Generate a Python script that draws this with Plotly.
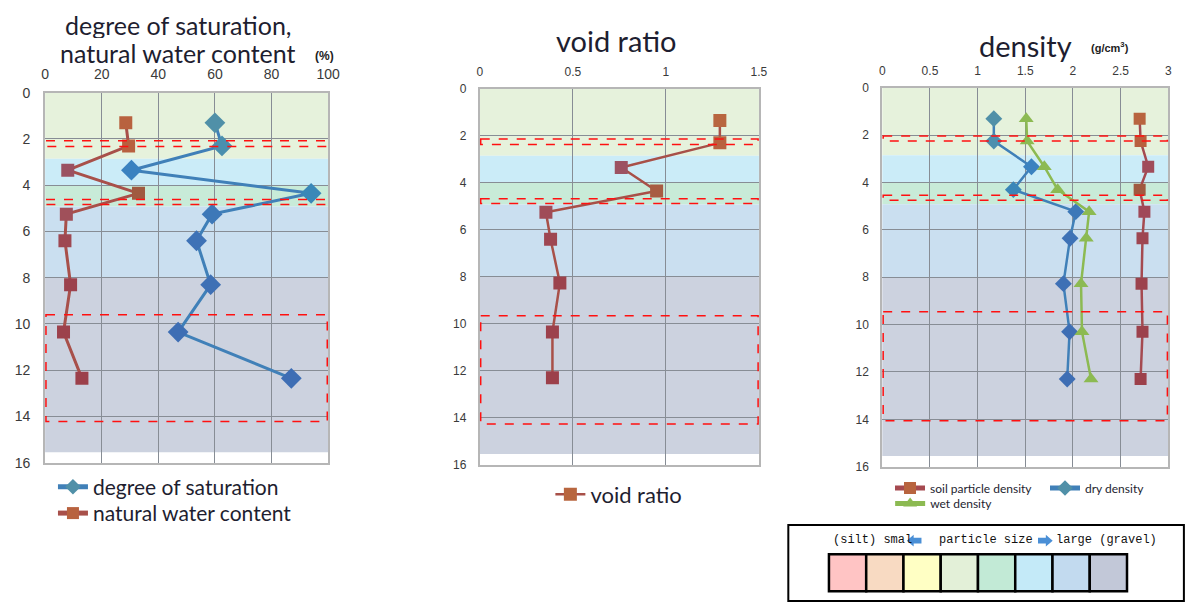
import plotly.graph_objects as go

W, H = 1200, 610

# ---------------- data ----------------
depth = [1.3, 2.3, 3.35, 4.35, 5.25, 6.4, 8.3, 10.35, 12.35]
saturation = [60, 62.5, 30.5, 94, 59, 53.5, 58.5, 47, 87]
water_content = [28.5, 29.5, 8, 33, 7.5, 7, 9, 6.5, 13]

depth_v = [1.35, 2.3, 3.35, 4.35, 5.25, 6.4, 8.27, 10.35, 12.3]
void_ratio = [1.29, 1.29, 0.76, 0.95, 0.355, 0.38, 0.43, 0.39, 0.39]

depth_d = [1.3, 2.25, 3.33, 4.3, 5.23, 6.35, 8.27, 10.3, 12.3]
soil_particle_density = [2.70, 2.71, 2.79, 2.70, 2.75, 2.73, 2.72, 2.73, 2.71]
dry_density = [1.17, 1.17, 1.565, 1.375, 2.03, 1.97, 1.90, 1.965, 1.94]
wet_density = [1.51, 1.52, 1.70, 1.84, 2.17, 2.14, 2.085, 2.095, 2.19]

# soil layer bands (depth top / bottom / colour)
band_top = [0, 2.85, 4.0, 4.92, 8.0]
band_bottom = [2.85, 4.0, 4.92, 8.0, 15.55]
band_color = ['#e6f2dc', '#cbecf8', '#c8ebd8', '#cadff0', '#ccd2df']

# red dashed sampling boxes per chart (top, bottom)
boxes_left = [(2.08, 2.33), (4.62, 4.83), (9.6, 14.22)]
boxes_mid = [(2.14, 2.37), (4.68, 4.88), (9.66, 14.27)]
boxes_right = [(2.03, 2.25), (4.54, 4.75), (9.46, 14.06)]

# particle-size legend swatches
swatch_colors = ['#ffc4c4', '#f8dac2', '#ffffc4', '#e3f0d8', '#c2ead6',
                 '#c4eaf8', '#c2daef', '#c2c8d8']

sat_colors = ['#5090a8', '#4a8fae', '#3a82c0', '#3a88b8', '#3d78b8',
              '#3e72b6', '#3e70b5', '#3e6eb4', '#3e6eb4']
wc_colors = ['#b8623f', '#b8603f', '#9a5262', '#a05a40', '#a0505a',
             '#9e4852', '#9c414c', '#9c414c', '#9c404a']
vr_colors = ['#b8663f', '#b8623f', '#9c5262', '#a85c42', '#a04c58',
             '#9e4652', '#9c424c', '#9c414c', '#9c404a']
spd_colors = ['#b8643f', '#b8603f', '#a04c5a', '#a05a40', '#a04858',
              '#9e4652', '#9c424c', '#9c414c', '#9c404a']
dry_colors = ['#5090a8', '#4c8fae', '#3a82c0', '#3a86b8', '#3d78b8',
              '#3e72b6', '#3e70b5', '#3e6eb4', '#3e6eb4']

FONT_T = 'Lato'
TXT = '#1e1e30'


def px(x):
    return x / W


def py(y):
    return 1 - y / H


fig = go.Figure()

# ---------------- traces ----------------
fig.add_trace(go.Scatter(
    x=saturation, y=depth, name='degree of saturation', mode='lines+markers',
    line=dict(color='#4080b8', width=3),
    marker=dict(symbol='diamond', size=16, color=sat_colors),
    xaxis='x', yaxis='y', legend='legend'))
fig.add_trace(go.Scatter(
    x=water_content, y=depth, name='natural water content', mode='lines+markers',
    line=dict(color='#a8504a', width=3),
    marker=dict(symbol='square', size=13, color=wc_colors),
    xaxis='x', yaxis='y', legend='legend5'))
fig.add_trace(go.Scatter(
    x=void_ratio, y=depth_v, name='void ratio', mode='lines+markers',
    line=dict(color='#a85048', width=2.5),
    marker=dict(symbol='square', size=13, color=vr_colors),
    xaxis='x2', yaxis='y2', legend='legend2'))
fig.add_trace(go.Scatter(
    x=soil_particle_density, y=depth_d, name='soil particle density',
    mode='lines+markers', line=dict(color='#a54a50', width=2.5),
    marker=dict(symbol='square', size=12, color=spd_colors),
    xaxis='x3', yaxis='y3', legend='legend3'))
fig.add_trace(go.Scatter(
    x=dry_density, y=depth_d, name='dry density', mode='lines+markers',
    line=dict(color='#4080b8', width=2.5),
    marker=dict(symbol='diamond', size=13, color=dry_colors),
    xaxis='x3', yaxis='y3', legend='legend3'))
fig.add_trace(go.Scatter(
    x=wet_density, y=depth_d, name='wet density', mode='lines+markers',
    line=dict(color='#8cba52', width=2.5),
    marker=dict(symbol='triangle-up', size=13, color='#8cba52'),
    xaxis='x3', yaxis='y3', legend='legend4'))


# ---------------- axes ----------------
def xax(domain, rng, dtick, fsize, standoff):
    return dict(domain=domain, range=rng, dtick=dtick, side='top',
                showgrid=True, gridcolor='#878d95', gridwidth=1,
                showline=True, linecolor='#b6b6b6', linewidth=2, mirror=True,
                zeroline=False, ticks='', ticklabelstandoff=standoff,
                tickfont=dict(family='Arial', size=fsize, color='#3a3a3a'),
                fixedrange=True)


def yax(domain, anchor, fsize, standoff):
    return dict(domain=domain, range=[16, 0], dtick=2, anchor=anchor,
                showgrid=True, gridcolor='#878d95', gridwidth=1,
                showline=True, linecolor='#b6b6b6', linewidth=2, mirror=True,
                zeroline=False, ticks='', ticklabelstandoff=standoff,
                tickfont=dict(family='Arial', size=fsize, color='#3a3a3a'),
                fixedrange=True)


dom_l = ([px(42), px(331)], [py(467), py(87)])
dom_m = ([px(486), px(771)], [py(469), py(83)])
dom_r = ([px(897), px(1189)], [py(471), py(82)])

fig.update_layout(
    xaxis=xax(dom_l[0], [0, 100], 20, 14, 6) | dict(anchor='y'),
    yaxis=yax(dom_l[1], 'x', 14, 10),
    xaxis2=xax(dom_m[0], [0, 1.5], 0.5, 12, 6) | dict(anchor='y2'),
    yaxis2=yax(dom_m[1], 'x2', 12, 9),
    xaxis3=xax(dom_r[0], [0, 3], 0.5, 12, 6) | dict(anchor='y3'),
    yaxis3=yax(dom_r[1], 'x3', 12, 9),
)

# ---------------- shapes ----------------
shapes = []
for xr, yr, boxes in [('x', 'y', boxes_left), ('x2', 'y2', boxes_mid),
                      ('x3', 'y3', boxes_right)]:
    for t, b, c in zip(band_top, band_bottom, band_color):
        shapes.append(dict(type='rect', xref=f'{xr} domain', yref=yr,
                           x0=0, x1=1, y0=t, y1=b, fillcolor=c,
                           line=dict(width=0), layer='below'))
    for t, b in boxes:
        shapes.append(dict(type='rect', xref=f'{xr} domain', yref=yr,
                           x0=0.003, x1=0.997, y0=t, y1=b,
                           fillcolor='rgba(0,0,0,0)',
                           line=dict(color='#ff1010', width=1.5, dash='dash'),
                           layer='above'))

# particle-size legend box (right edge runs off the canvas, as in the reference)
shapes.append(dict(type='rect', xref='paper', yref='paper',
                   x0=px(801), x1=px(1205), y0=py(609), y1=py(531),
                   line=dict(color='#000000', width=2), fillcolor='white'))
sw_x0, sw_w = 842.5, 38.05
for i, c in enumerate(swatch_colors):
    shapes.append(dict(type='rect', xref='paper', yref='paper',
                       x0=px(sw_x0 + i * sw_w), x1=px(sw_x0 + (i + 1) * sw_w),
                       y0=py(599), y1=py(561), fillcolor=c,
                       line=dict(color='#000000', width=2.5)))


def arrow_path(x_tip, direction, yc):
    hw, sh = 6, 3
    L1, L2 = 7, 15
    d = direction
    pts = [(x_tip, yc), (x_tip - d * L1, yc - hw), (x_tip - d * L1, yc - sh),
           (x_tip - d * L2, yc - sh), (x_tip - d * L2, yc + sh),
           (x_tip - d * L1, yc + sh), (x_tip - d * L1, yc + hw)]
    return 'M ' + ' L '.join(f'{px(a):.5f},{py(b):.5f}' for a, b in pts) + ' Z'


shapes.append(dict(type='path', xref='paper', yref='paper',
                   path=arrow_path(922, -1, 547), fillcolor='#4a8fd6',
                   line=dict(width=0)))
shapes.append(dict(type='path', xref='paper', yref='paper',
                   path=arrow_path(1071, 1, 547), fillcolor='#4a8fd6',
                   line=dict(width=0)))
fig.update_layout(shapes=shapes)

# ---------------- annotations ----------------
ann = []


def text(x, y, s, size, family=FONT_T, color=TXT, xanchor='center', height=None):
    a = dict(xref='paper', yref='paper', x=px(x), y=py(y), text=s,
             showarrow=False, xanchor=xanchor, yanchor='middle',
             font=dict(family=family, size=size, color=color))
    if height:
        a['height'] = height
    ann.append(a)


text(178, 17, 'degree of saturation,', 25, height=27)
text(178, 46, 'natural water content', 25, height=27)
text(327, 49, '<b>(%)</b>', 12, family='Arial', color='#222')
text(625, 33, 'void ratio', 29)
text(1043, 38, 'density', 29)
text(1130, 40, '<b>(g/cm<sup>3</sup>)</b>', 11, family='Arial', color='#222')

MONO = 'Liberation Mono'
text(845, 546, '(silt) smal', 12, family=MONO, color='#111', xanchor='left')
text(953, 546, 'particle size', 12, family=MONO, color='#111', xanchor='left')
text(1072, 546, 'large (gravel)', 12, family=MONO, color='#111', xanchor='left')

fig.update_layout(annotations=ann)

# ---------------- legends ----------------
big_font = dict(family=FONT_T, size=21, color=TXT)
mid_font = dict(family=FONT_T, size=22, color=TXT)
small_font = dict(family=FONT_T, size=12, color=TXT)
fig.update_layout(
    showlegend=True,
    legend=dict(x=px(50), y=py(471), xanchor='left', yanchor='top',
                bgcolor='rgba(0,0,0,0)', font=big_font, itemsizing='constant'),
    legend5=dict(x=px(50), y=py(498), xanchor='left', yanchor='top',
                 bgcolor='rgba(0,0,0,0)', font=big_font, itemsizing='constant'),
    legend2=dict(x=px(558), y=py(478), xanchor='left', yanchor='top',
                 bgcolor='rgba(0,0,0,0)', font=mid_font),
    legend3=dict(x=px(905), y=py(478), xanchor='left', yanchor='top',
                 orientation='h', entrywidth=110, entrywidthmode='pixels',
                 bgcolor='rgba(0,0,0,0)', font=small_font, itemsizing='constant'),
    legend4=dict(x=px(905), y=py(494), xanchor='left', yanchor='top',
                 bgcolor='rgba(0,0,0,0)', font=small_font, itemsizing='constant'),
)

fig.update_layout(width=W, height=H, margin=dict(l=0, r=0, t=0, b=0),
                  paper_bgcolor='white', plot_bgcolor='white')

fig.write_html('out.html', include_plotlyjs=True)
